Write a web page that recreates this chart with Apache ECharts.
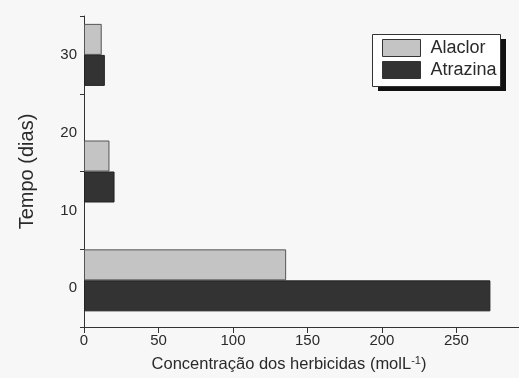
<!DOCTYPE html>
<html>
<head>
<meta charset="utf-8">
<script src="https://cdn.jsdelivr.net/npm/echarts@6/dist/echarts.min.js"></script>
<style>
html,body{margin:0;padding:0;background:#f7f7f7;}
#chart{width:519px;height:378px;}
</style>
</head>
<body>
<div id="chart"></div>
<script>
// Tick labels of the time axis (days)
var tempoTicks = ['0', '10', '20', '30'];
// Fine position scale (days) used to place bar groups as they appear in the figure
var posScale = [];
for (var d = -5; d <= 35; d++) posScale.push(String(d));
// Bar group positions (days)
var groupPos = ['1', '15', '30'];
// Concentrations (molL-1)
var alaclor = [135.7, 17.1, 11.9];
var atrazina = [272.8, 20.5, 14.0];
// X axis
var xTicksMax = 292;

var FONT = '"Liberation Sans", Arial, sans-serif';
var TXT = '#2a2a2a';

function pairs(vals){ return vals.map(function(v,i){ return [v, groupPos[i]]; }); }

var chart = echarts.init(document.getElementById('chart'), null, {renderer:'canvas'});
chart.setOption({
  backgroundColor: '#f7f7f7',
  animation: false,
  grid: {left: 84, right: 0, top: 16, bottom: 51, containLabel: false},
  graphic: [{
    type: 'rect', z: 1, silent: true,
    shape: {x: 378, y: 39, width: 128, height: 52},
    style: {fill: '#111'}
  }, {
    type: 'rect', z: 2, silent: true,
    shape: {x: 372.5, y: 34.5, width: 128, height: 52},
    style: {fill: '#ffffff', stroke: '#333', lineWidth: 1}
  }],
  legend: {
    orient: 'vertical',
    left: 372, top: 34, z: 10,
    padding: [5, 6, 6, 10],
    itemWidth: 38, itemHeight: 17, itemGap: 4,
    icon: 'rect',
    itemStyle: {borderColor: '#333', borderWidth: 1},
    textStyle: {fontFamily: FONT, fontSize: 18, color: TXT, padding: [0,0,0,5], lineHeight: 18},
    data: ['Alaclor', 'Atrazina']
  },
  xAxis: {
    type: 'value', min: 0, max: xTicksMax, interval: 50,
    axisLine: {show: true, lineStyle: {color: '#333', width: 1}},
    axisTick: {show: true, length: 6, lineStyle: {color: '#333'}},
    splitLine: {show: false},
    axisLabel: {fontFamily: FONT, fontSize: 15, color: TXT, margin: 6, showMaxLabel: false},
    name: '{a|Concentração dos herbicidas (molL}{s|-1}{a|)}',
    nameLocation: 'middle', nameGap: 28,
    nameTextStyle: {
      padding: [0, 25, 0, 0],
      rich: {
        a: {fontFamily: FONT, fontSize: 16.5, color: TXT},
        s: {fontFamily: FONT, fontSize: 11, color: TXT, verticalAlign: 'top', padding: [0,0,8,0]}
      }
    }
  },
  yAxis: [{
    type: 'category', data: tempoTicks, boundaryGap: true,
    axisLine: {show: true, lineStyle: {color: '#333', width: 1}},
    axisTick: {show: true, length: 4, alignWithLabel: false, lineStyle: {color: '#333'}},
    axisLabel: {fontFamily: FONT, fontSize: 15, color: TXT, margin: 7},
    splitLine: {show: false},
    name: 'Tempo (dias)', nameLocation: 'middle', nameGap: 47, nameRotate: 90,
    nameTextStyle: {fontFamily: FONT, fontSize: 20, color: TXT}
  }, {
    type: 'category', data: posScale, boundaryGap: false, show: false
  }],
  series: [{
    name: 'Alaclor', type: 'bar', yAxisIndex: 1,
    barWidth: 31, barGap: '0%',
    itemStyle: {color: '#c4c4c4', borderColor: '#555', borderWidth: 1},
    data: pairs(alaclor)
  }, {
    name: 'Atrazina', type: 'bar', yAxisIndex: 1,
    barWidth: 31, barGap: '0%',
    itemStyle: {color: '#333333', borderColor: '#222', borderWidth: 1},
    data: pairs(atrazina)
  }]
});
</script>
</body>
</html>
